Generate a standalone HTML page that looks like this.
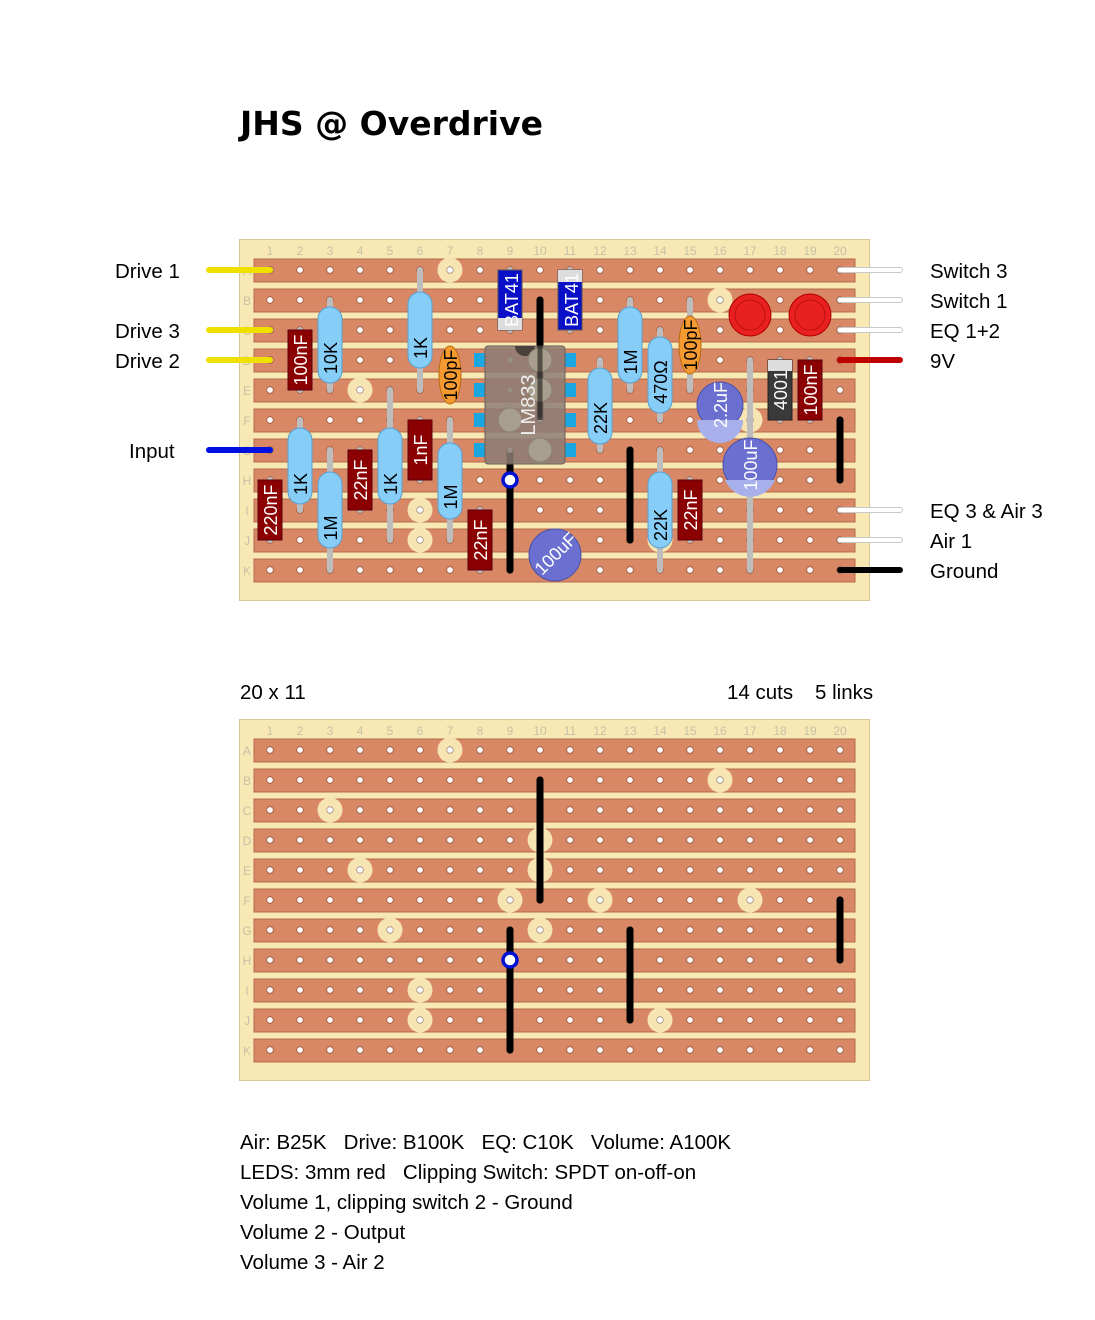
<!DOCTYPE html>
<html><head><meta charset="utf-8"><style>
body{margin:0;background:#fff;}
svg{display:block;}
.l{font-family:"Liberation Sans",sans-serif;font-size:20.5px;fill:#000;white-space:pre;}
.n{font-family:"Liberation Sans",sans-serif;font-size:12px;fill:#c8c0a8;}
.c{font-family:"Liberation Sans",sans-serif;font-size:18px;}
</style></head><body>
<svg width="1095" height="1320" viewBox="0 0 1095 1320" xmlns="http://www.w3.org/2000/svg" xml:space="preserve">
<defs>
<pattern id="h1" patternUnits="userSpaceOnUse" x="255" y="255" width="30" height="30">
<circle cx="15" cy="15" r="3.3" fill="#fff" stroke="#9a5a40" stroke-width="0.8"/></pattern>
<pattern id="h2" patternUnits="userSpaceOnUse" x="255" y="735" width="30" height="30">
<circle cx="15" cy="15" r="3.3" fill="#fff" stroke="#9a5a40" stroke-width="0.8"/></pattern>
<g id="strips">
<rect x="254" y="259" width="601" height="23" fill="#d98866" stroke="#b36a4c"/>
<rect x="254" y="289" width="601" height="23" fill="#d98866" stroke="#b36a4c"/>
<rect x="254" y="319" width="601" height="23" fill="#d98866" stroke="#b36a4c"/>
<rect x="254" y="349" width="601" height="23" fill="#d98866" stroke="#b36a4c"/>
<rect x="254" y="379" width="601" height="23" fill="#d98866" stroke="#b36a4c"/>
<rect x="254" y="409" width="601" height="23" fill="#d98866" stroke="#b36a4c"/>
<rect x="254" y="439" width="601" height="23" fill="#d98866" stroke="#b36a4c"/>
<rect x="254" y="469" width="601" height="23" fill="#d98866" stroke="#b36a4c"/>
<rect x="254" y="499" width="601" height="23" fill="#d98866" stroke="#b36a4c"/>
<rect x="254" y="529" width="601" height="23" fill="#d98866" stroke="#b36a4c"/>
<rect x="254" y="559" width="601" height="23" fill="#d98866" stroke="#b36a4c"/>
</g>
<g id="nums">
<text x="270" y="255" text-anchor="middle" class="n">1</text><text x="300" y="255" text-anchor="middle" class="n">2</text><text x="330" y="255" text-anchor="middle" class="n">3</text><text x="360" y="255" text-anchor="middle" class="n">4</text><text x="390" y="255" text-anchor="middle" class="n">5</text><text x="420" y="255" text-anchor="middle" class="n">6</text><text x="450" y="255" text-anchor="middle" class="n">7</text><text x="480" y="255" text-anchor="middle" class="n">8</text><text x="510" y="255" text-anchor="middle" class="n">9</text><text x="540" y="255" text-anchor="middle" class="n">10</text><text x="570" y="255" text-anchor="middle" class="n">11</text><text x="600" y="255" text-anchor="middle" class="n">12</text><text x="630" y="255" text-anchor="middle" class="n">13</text><text x="660" y="255" text-anchor="middle" class="n">14</text><text x="690" y="255" text-anchor="middle" class="n">15</text><text x="720" y="255" text-anchor="middle" class="n">16</text><text x="750" y="255" text-anchor="middle" class="n">17</text><text x="780" y="255" text-anchor="middle" class="n">18</text><text x="810" y="255" text-anchor="middle" class="n">19</text><text x="840" y="255" text-anchor="middle" class="n">20</text>
<text x="247" y="275" text-anchor="middle" class="n">A</text><text x="247" y="305" text-anchor="middle" class="n">B</text><text x="247" y="335" text-anchor="middle" class="n">C</text><text x="247" y="365" text-anchor="middle" class="n">D</text><text x="247" y="395" text-anchor="middle" class="n">E</text><text x="247" y="425" text-anchor="middle" class="n">F</text><text x="247" y="455" text-anchor="middle" class="n">G</text><text x="247" y="485" text-anchor="middle" class="n">H</text><text x="247" y="515" text-anchor="middle" class="n">I</text><text x="247" y="545" text-anchor="middle" class="n">J</text><text x="247" y="575" text-anchor="middle" class="n">K</text>
</g>
<g id="cut"><circle r="12.5" fill="#f6e4b2"/><circle r="3.3" fill="#fff" stroke="#a09080" stroke-width="0.8"/></g>
</defs>

<text x="240" y="135" style="font-family:'DejaVu Sans',sans-serif;font-weight:bold;font-size:33px">JHS @ Overdrive</text>

<!-- BOARD 1 -->
<rect x="239.5" y="239.5" width="630" height="361" fill="#f8e9b4" stroke="#d8c898"/>
<use href="#nums"/>
<use href="#strips"/>
<rect x="255" y="255" width="600" height="330" fill="url(#h1)"/>
<use href="#cut" x="450" y="270"/><use href="#cut" x="720" y="300"/><use href="#cut" x="330" y="330"/>
<use href="#cut" x="360" y="390"/><use href="#cut" x="750" y="420"/><use href="#cut" x="600" y="420"/>
<use href="#cut" x="390" y="450"/><use href="#cut" x="420" y="510"/><use href="#cut" x="420" y="540"/><use href="#cut" x="660" y="540"/>

<g stroke-linecap="round" stroke-width="6">
<line x1="209" y1="270" x2="270" y2="270" stroke="#f0e000"/>
<line x1="209" y1="330" x2="270" y2="330" stroke="#f0e000"/>
<line x1="209" y1="360" x2="270" y2="360" stroke="#f0e000"/>
<line x1="209" y1="450" x2="270" y2="450" stroke="#0010e0"/>
<line x1="840" y1="270" x2="900" y2="270" stroke="#c8c8c8"/>
<line x1="840" y1="300" x2="900" y2="300" stroke="#c8c8c8"/>
<line x1="840" y1="330" x2="900" y2="330" stroke="#c8c8c8"/>
<line x1="840" y1="360" x2="900" y2="360" stroke="#c00000"/>
<line x1="840" y1="510" x2="900" y2="510" stroke="#c8c8c8"/>
<line x1="840" y1="540" x2="900" y2="540" stroke="#c8c8c8"/>
<line x1="840" y1="570" x2="900" y2="570" stroke="#000"/>
</g>
<g stroke="#fff" stroke-width="4" stroke-linecap="round">
<line x1="840" y1="270" x2="900" y2="270"/><line x1="840" y1="300" x2="900" y2="300"/><line x1="840" y1="330" x2="900" y2="330"/><line x1="840" y1="510" x2="900" y2="510"/><line x1="840" y1="540" x2="900" y2="540"/>
</g>
<text x="115" y="278" class="l">Drive 1</text>
<text x="115" y="338" class="l">Drive 3</text>
<text x="115" y="368" class="l">Drive 2</text>
<text x="129" y="458" class="l">Input</text>
<text x="930" y="278" class="l">Switch 3</text>
<text x="930" y="308" class="l">Switch 1</text>
<text x="930" y="338" class="l">EQ 1+2</text>
<text x="930" y="368" class="l">9V</text>
<text x="930" y="518" class="l">EQ 3 &amp; Air 3</text>
<text x="930" y="548" class="l">Air 1</text>
<text x="930" y="578" class="l">Ground</text>

<g stroke="#000" stroke-width="7" stroke-linecap="round">
<line x1="540" y1="300" x2="540" y2="420"/>
<line x1="510" y1="450" x2="510" y2="570"/>
<line x1="630" y1="450" x2="630" y2="540"/>
<line x1="840" y1="420" x2="840" y2="480"/>
</g>

<g stroke="#bdbdbd" stroke-width="6" stroke-linecap="round">
<line x1="300" y1="330" x2="300" y2="390"/>
<line x1="330" y1="300" x2="330" y2="390"/>
<line x1="420" y1="270" x2="420" y2="390"/>
<line x1="510" y1="270" x2="510" y2="330"/>
<line x1="570" y1="270" x2="570" y2="330"/>
<line x1="300" y1="420" x2="300" y2="510"/>
<line x1="330" y1="450" x2="330" y2="570"/>
<line x1="360" y1="450" x2="360" y2="510"/>
<line x1="390" y1="390" x2="390" y2="540"/>
<line x1="420" y1="420" x2="420" y2="480"/>
<line x1="450" y1="420" x2="450" y2="540"/>
<line x1="270" y1="480" x2="270" y2="540"/>
<line x1="480" y1="510" x2="480" y2="570"/>
<line x1="600" y1="360" x2="600" y2="450"/>
<line x1="630" y1="300" x2="630" y2="390"/>
<line x1="660" y1="330" x2="660" y2="420"/>
<line x1="690" y1="300" x2="690" y2="390"/>
<line x1="750" y1="300" x2="750" y2="330"/>
<line x1="810" y1="300" x2="810" y2="330"/>
<line x1="750" y1="360" x2="750" y2="570"/>
<line x1="780" y1="360" x2="780" y2="420"/>
<line x1="810" y1="360" x2="810" y2="420"/>
<line x1="660" y1="450" x2="660" y2="570"/>
<line x1="690" y1="480" x2="690" y2="540"/>
</g>

<g fill="#1aa6e0">
<rect x="474" y="353" width="11" height="14"/><rect x="474" y="383" width="11" height="14"/><rect x="474" y="413" width="11" height="14"/><rect x="474" y="443" width="11" height="14"/>
<rect x="565" y="353" width="11" height="14"/><rect x="565" y="383" width="11" height="14"/><rect x="565" y="413" width="11" height="14"/><rect x="565" y="443" width="11" height="14"/>
</g>
<rect x="485" y="346" width="80" height="118" rx="3" fill="#8c7d74" fill-opacity="0.85" stroke="#6a5e58"/>
<path d="M515 346 A10 10 0 0 0 535 346 Z" fill="#4a403c"/>
<g fill="#a89e8e" stroke="#8a8070"><circle cx="540" cy="360" r="12"/><circle cx="540" cy="390" r="12"/><circle cx="510" cy="420" r="12"/><circle cx="540" cy="450" r="12"/></g>
<g fill="#9a8e84"><circle cx="510" cy="360" r="3"/><circle cx="510" cy="390" r="3"/><circle cx="540" cy="420" r="3"/><circle cx="510" cy="450" r="3"/></g>
<line x1="540" y1="300" x2="540" y2="420" stroke="#000" stroke-width="5" opacity="0.5"/>
<text transform="translate(535,405) rotate(-90)" text-anchor="middle" class="c" fill="#eee" style="font-size:20px">LM833</text>

<rect x="498" y="270" width="24" height="60" fill="#0a10c8" stroke="#555"/>
<rect x="498" y="318" width="24" height="12" fill="#ddd"/>
<text transform="translate(518,300) rotate(-90)" text-anchor="middle" class="c" fill="#fff">BAT41</text>
<rect x="558" y="270" width="24" height="60" fill="#0a10c8" stroke="#555"/>
<rect x="558" y="270" width="24" height="12" fill="#ddd"/>
<text transform="translate(578,300) rotate(-90)" text-anchor="middle" class="c" fill="#fff">BAT41</text>
<rect x="768" y="360" width="24" height="60" fill="#3a3a3a" stroke="#222"/>
<rect x="768" y="360" width="24" height="11" fill="#ddd"/>
<text transform="translate(787,390) rotate(-90)" text-anchor="middle" class="c" fill="#fff">4001</text>

<g fill="#8b0000" stroke="#5a0010">
<rect x="288" y="330" width="24" height="60"/>
<rect x="348" y="450" width="24" height="60"/>
<rect x="408" y="420" width="24" height="60"/>
<rect x="258" y="480" width="24" height="60"/>
<rect x="468" y="510" width="24" height="60"/>
<rect x="678" y="480" width="24" height="60"/>
<rect x="798" y="360" width="24" height="60"/>
</g>
<g class="c" fill="#fff" text-anchor="middle">
<text transform="translate(307,360) rotate(-90)">100nF</text>
<text transform="translate(367,480) rotate(-90)">22nF</text>
<text transform="translate(427,450) rotate(-90)">1nF</text>
<text transform="translate(277,510) rotate(-90)">220nF</text>
<text transform="translate(487,540) rotate(-90)">22nF</text>
<text transform="translate(697,510) rotate(-90)">22nF</text>
<text transform="translate(817,390) rotate(-90)">100nF</text>
</g>

<ellipse cx="450" cy="375" rx="11" ry="29" fill="#f59a30" stroke="#b86a10"/>
<text transform="translate(457,375) rotate(-90)" text-anchor="middle" class="c">100pF</text>
<ellipse cx="690" cy="345" rx="11" ry="29" fill="#f59a30" stroke="#b86a10"/>
<text transform="translate(697,345) rotate(-90)" text-anchor="middle" class="c">100pF</text>

<g fill="#86cdf8" stroke="#5aa0d0" stroke-width="1">
<rect x="318" y="307" width="24" height="76" rx="12"/>
<rect x="408" y="292" width="24" height="76" rx="12"/>
<rect x="288" y="428" width="24" height="76" rx="12"/>
<rect x="318" y="472" width="24" height="76" rx="12"/>
<rect x="378" y="428" width="24" height="76" rx="12"/>
<rect x="438" y="443" width="24" height="76" rx="12"/>
<rect x="588" y="368" width="24" height="76" rx="12"/>
<rect x="618" y="307" width="24" height="76" rx="12"/>
<rect x="648" y="337" width="24" height="76" rx="12"/>
<rect x="648" y="472" width="24" height="76" rx="12"/>
</g>
<g class="c" text-anchor="middle">
<text transform="translate(337,358) rotate(-90)">10K</text>
<text transform="translate(427,348) rotate(-90)">1K</text>
<text transform="translate(307,484) rotate(-90)">1K</text>
<text transform="translate(337,528) rotate(-90)">1M</text>
<text transform="translate(397,484) rotate(-90)">1K</text>
<text transform="translate(457,497) rotate(-90)">1M</text>
<text transform="translate(607,418) rotate(-90)">22K</text>
<text transform="translate(637,362) rotate(-90)">1M</text>
<text transform="translate(667,382) rotate(-90)">470Ω</text>
<text transform="translate(667,525) rotate(-90)">22K</text>
</g>

<circle cx="720" cy="405" r="23" fill="#6b70d0" stroke="#4a50a8"/>
<path d="M697 420 A23 23 0 0 0 743 420 Z" fill="#a8b0ec"/>
<text transform="translate(727,405) rotate(-90)" text-anchor="middle" class="c" fill="#fff">2.2uF</text>
<circle cx="750" cy="465" r="27" fill="#6b70d0" stroke="#4a50a8"/>
<path d="M725 480 A27 27 0 0 0 775 480 Z" fill="#a8b0ec"/>
<text transform="translate(757,465) rotate(-90)" text-anchor="middle" class="c" fill="#fff">100uF</text>
<circle cx="555" cy="555" r="26" fill="#6b70d0" stroke="#4a50a8"/>
<text transform="translate(560,558) rotate(-45)" text-anchor="middle" class="c" fill="#fff">100uF</text>

<circle cx="750" cy="315" r="21" fill="#e82020" stroke="#b00000"/><circle cx="750" cy="315" r="15" fill="none" stroke="#c01010"/>
<circle cx="810" cy="315" r="21" fill="#e82020" stroke="#b00000"/><circle cx="810" cy="315" r="15" fill="none" stroke="#c01010"/>

<circle cx="510" cy="480" r="7" fill="#fff" stroke="#0010d0" stroke-width="3.5"/>

<text x="240" y="699" class="l">20 x 11</text>
<text x="727" y="699" class="l">14 cuts</text>
<text x="815" y="699" class="l">5 links</text>

<g transform="translate(0,480)">
<rect x="239.5" y="239.5" width="630" height="361" fill="#f8e9b4" stroke="#d8c898"/>
<use href="#nums"/>
<use href="#strips"/>
</g>
<rect x="255" y="735" width="600" height="330" fill="url(#h2)"/>
<g transform="translate(0,480)">
<use href="#cut" x="450" y="270"/><use href="#cut" x="720" y="300"/><use href="#cut" x="330" y="330"/>
<use href="#cut" x="540" y="360"/><use href="#cut" x="360" y="390"/><use href="#cut" x="540" y="390"/>
<use href="#cut" x="510" y="420"/><use href="#cut" x="600" y="420"/><use href="#cut" x="750" y="420"/>
<use href="#cut" x="390" y="450"/><use href="#cut" x="540" y="450"/>
<use href="#cut" x="420" y="510"/><use href="#cut" x="420" y="540"/><use href="#cut" x="660" y="540"/>
<g stroke="#000" stroke-width="7" stroke-linecap="round">
<line x1="540" y1="300" x2="540" y2="420"/>
<line x1="510" y1="450" x2="510" y2="570"/>
<line x1="630" y1="450" x2="630" y2="540"/>
<line x1="840" y1="420" x2="840" y2="480"/>
</g>
<circle cx="510" cy="480" r="7" fill="#fff" stroke="#0010d0" stroke-width="3.5"/>
</g>

<text x="240" y="1149" class="l">Air: B25K   Drive: B100K   EQ: C10K   Volume: A100K</text>
<text x="240" y="1179" class="l">LEDS: 3mm red   Clipping Switch: SPDT on-off-on</text>
<text x="240" y="1209" class="l">Volume 1, clipping switch 2 - Ground</text>
<text x="240" y="1239" class="l">Volume 2 - Output</text>
<text x="240" y="1269" class="l">Volume 3 - Air 2</text>
</svg>
</body></html>
